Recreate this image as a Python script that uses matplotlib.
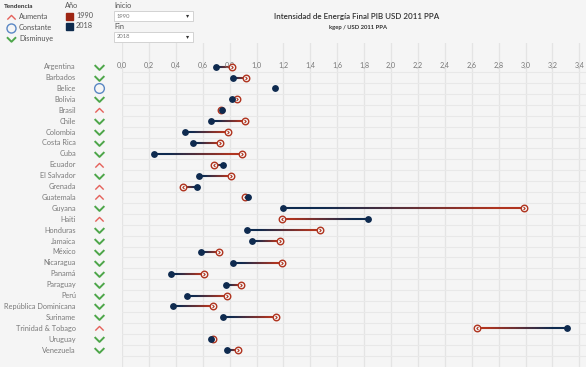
import numpy as np
import matplotlib
matplotlib.use("Agg")
import matplotlib.pyplot as plt
import matplotlib.transforms as mtransforms
from matplotlib.collections import LineCollection
from matplotlib.patches import Rectangle
from matplotlib.path import Path
from matplotlib.colors import to_rgb

plt.rcParams['font.family'] = ['Lato', 'DejaVu Sans']

paises = ["Argentina", "Barbados", "Belice", "Bolivia", "Brasil", "Chile", "Colombia",
          "Costa Rica", "Cuba", "Ecuador", "El Salvador", "Grenada", "Guatemala", "Guyana",
          "Haiti", "Honduras", "Jamaica", "México", "Nicaragua", "Panamá", "Paraguay", "Perú",
          "República Dominicana", "Suriname", "Trinidad & Tobago", "Uruguay", "Venezuela"]
v1990 = [0.82, 0.924, np.nan, 0.855, 0.736, 0.917, 0.786, 0.731, 0.890, 0.684, 0.810, 0.454,
         0.912, 2.987, 1.19, 1.47, 1.175, 0.724, 1.187, 0.607, 0.885, 0.781, 0.679, 1.143,
         2.637, 0.677, 0.860]
v2018 = [0.697, 0.823, 1.138, 0.818, 0.746, 0.662, 0.466, 0.530, 0.240, 0.749, 0.575, 0.558,
         0.939, 1.195, 1.827, 0.929, 0.964, 0.587, 0.828, 0.367, 0.776, 0.486, 0.377, 0.751,
         3.309, 0.659, 0.783]
ticks = [round(0.2 * i, 1) for i in range(18)]

ROJO = "#b0341f"
AZUL = "#0e2a4f"
BG = "#f5f5f5"
W, H = 586, 367

fig = plt.figure(figsize=(W / 100, H / 100), dpi=100, facecolor=BG)

def fx(px):
    return px / W

def fy(py):
    return 1 - py / H

# plot pane
ax = fig.add_axes([fx(122), 0, fx(W - 122), (H - 43) / H])
ax.set_facecolor(BG)
for s in ax.spines.values():
    s.set_visible(False)
ax.set_xlim(0, (W - 122) / 134.5)
ax.set_ylim((H - 66.7) / 10.9, (43 - 66.7) / 10.9)
ax.set_xticks([])
ax.set_yticks([])

n = len(paises)
for t in ticks:
    ax.axvline(t, color="#e4e4e4", lw=0.9, zorder=0)
    ax.text(t, -0.15, f"{t:.1f}".replace(".", ","), ha="center", va="center",
            fontsize=5.2, color="#777777")
for i in range(n):
    ax.axhline(i + 0.5, color="#e8e8e8", lw=0.8, zorder=0)

c_r = np.array(to_rgb(ROJO))
c_a = np.array(to_rgb(AZUL))
chev_r = Path([(-0.6, -1), (0.4, 0), (-0.6, 1)], [Path.MOVETO, Path.LINETO, Path.LINETO])
chev_l = Path([(0.6, -1), (-0.4, 0), (0.6, 1)], [Path.MOVETO, Path.LINETO, Path.LINETO])

for i, (a, b) in enumerate(zip(v1990, v2018)):
    if not np.isnan(a):
        xs = np.linspace(b, a, 40)
        segs = [[(xs[k], i), (xs[k + 1], i)] for k in range(len(xs) - 1)]
        f = np.linspace(0, 1, len(segs))
        f = np.clip((f - 0.15) / 0.75, 0, 1)
        cols = [tuple(c_a * (1 - q) + c_r * q) for q in f]
        ax.add_collection(LineCollection(segs, colors=cols, lw=1.5, zorder=2))
        ax.plot([a], [i], marker="o", ms=4.7, mfc=BG, mec=ROJO, mew=1.0, zorder=3)
        ax.plot([a], [i], marker=chev_r if a > b else chev_l, ms=2.3, mfc="none",
                mec=ROJO, mew=0.8, zorder=4)
    ax.plot([b], [i], marker="o", ms=3.9, color=AZUL, zorder=5)

# country labels and trend icons
bt = mtransforms.blended_transform_factory(fig.transFigure, ax.transData)
caret = Path([(-1, -0.5), (0, 0.5), (1, -0.5)], [Path.MOVETO, Path.LINETO, Path.LINETO])
vee = Path([(-1, 0.5), (0, -0.5), (1, 0.5)], [Path.MOVETO, Path.LINETO, Path.LINETO])
VERDE = "#4ea64a"
ROSA = "#e5605a"
CELESTE = "#5a87c4"
for i, (p, a, b) in enumerate(zip(paises, v1990, v2018)):
    ax.text(fx(76), i, p, transform=bt, ha="right", va="center", fontsize=5.3,
            color="#7a7a7a", clip_on=False)
    if np.isnan(a) or a == b:
        ax.plot([fx(99)], [i], transform=bt, marker="o", ms=7, mfc="none", mec=CELESTE,
                mew=1.0, clip_on=False)
    elif b > a:
        ax.plot([fx(99)], [i], transform=bt, marker=caret, ms=6, mfc="none", mec=ROSA,
                mew=1.0, clip_on=False)
    else:
        ax.plot([fx(99)], [i], transform=bt, marker=vee, ms=7, mfc="none", mec=VERDE,
                mew=1.4, clip_on=False)

# header: tendencia legend
fig.text(fx(4), fy(6), "Tendencia", fontsize=4.6, fontweight="bold", color="#333333",
         va="center")
legend_items = [("Aumenta", caret, ROSA, 16.5, 6, 1.0), ("Constante", "o", CELESTE, 28, 6.5, 1.0),
                ("Disminuye", vee, VERDE, 39, 6.5, 1.4)]
for lab, mk, col, py, ms, mw in legend_items:
    fig.lines.append(plt.Line2D([fx(11)], [fy(py)], transform=fig.transFigure, marker=mk,
                                ms=ms, mfc="none", mec=col, mew=mw))
    fig.text(fx(19), fy(py), lab, fontsize=5.3, color="#555555", va="center")

# año legend
fig.text(fx(65), fy(5.5), "Año", fontsize=5.3, color="#555555", va="center")
for lab, col, py in [("1990", "#9e2614", 16), ("2018", "#0d2a4d", 26)]:
    fig.patches.append(Rectangle((fx(66), fy(py + 3.5)), fx(7), 7 / H, transform=fig.transFigure,
                                 color=col))
    fig.text(fx(76), fy(py), lab, fontsize=5.3, color="#555555", va="center")

# inicio / fin selectors
for lab, val, py_lab, py_box in [("Inicio", "1990", 5.5, 11), ("Fin", "2018", 26.5, 32)]:
    fig.text(fx(114), fy(py_lab), lab, fontsize=5.3, color="#555555", va="center")
    fig.patches.append(Rectangle((fx(114), fy(py_box + 10)), fx(79), 10 / H,
                                 transform=fig.transFigure, facecolor="white",
                                 edgecolor="#cccccc", lw=0.6))
    fig.text(fx(117), fy(py_box + 5), val, fontsize=4.2, color="#777777", va="center")
    fig.text(fx(188), fy(py_box + 5), "▾", fontsize=4.5, color="#333333", va="center",
             ha="center")

fig.text(fx(357), fy(17), "Intensidad de Energía Final PIB USD 2011 PPA", fontsize=5.8,
         color="#333333", ha="center", va="center", fontweight="semibold")
fig.text(fx(358), fy(28), "kgep / USD 2011 PPA", fontsize=4.2, color="#333333",
         ha="center", va="center", fontweight="bold")

fig.savefig("out.png", dpi=100, facecolor=BG)
